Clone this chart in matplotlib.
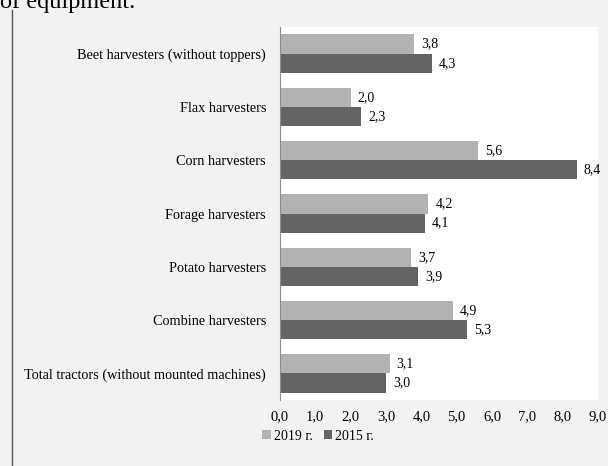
import numpy as np
import matplotlib.pyplot as plt

# Data
categories = [
    "Beet harvesters (without toppers)",
    "Flax harvesters",
    "Corn harvesters",
    "Forage harvesters",
    "Potato harvesters",
    "Combine harvesters",
    "Total tractors (without mounted machines)",
]
values_2019 = [3.8, 2.0, 5.6, 4.2, 3.7, 4.9, 3.1]
values_2015 = [4.3, 2.3, 8.4, 4.1, 3.9, 5.3, 3.0]
x_ticks = [0, 1, 2, 3, 4, 5, 6, 7, 8, 9]

plt.rcParams['font.family'] = ['Liberation Serif', 'DejaVu Serif']

fig = plt.figure(figsize=(6.08, 4.66), dpi=100)
fig.patch.set_facecolor("#f2f2f2")

ax = fig.add_axes([280 / 608, 1 - 400 / 466, 318 / 608, 373 / 466])
ax.set_facecolor("white")

y = np.arange(len(categories))
h = 0.36
light = "#b2b2b2"
dark = "#646464"
b1 = ax.barh(y - h / 2, values_2019, height=h, color=light, label="2019 г.")
b2 = ax.barh(y + h / 2, values_2015, height=h, color=dark, label="2015 г.")

def fmt(v):
    return f"{v:.1f}".replace(".", ",")

for bars, vals in ((b1, values_2019), (b2, values_2015)):
    for rect, v in zip(bars, vals):
        ax.text(v + 0.2, rect.get_y() + rect.get_height() / 2, fmt(v),
                va="center", ha="left", fontsize=10)

ax.set_xlim(0, 9)
ax.set_ylim(len(categories) - 0.5, -0.5)
ax.set_yticks(y)
ax.set_yticklabels(categories, fontsize=10.3)
ax.set_xticks(x_ticks)
ax.set_xticklabels([fmt(t) for t in x_ticks], fontsize=10.5)
ax.tick_params(axis="y", length=0, pad=10)
ax.tick_params(axis="x", length=0, pad=7)

for s in ("top", "right", "bottom"):
    ax.spines[s].set_visible(False)
ax.spines["left"].set_color("#8c8c8c")
ax.spines["left"].set_linewidth(0.8)

leg = fig.legend(handles=[b1, b2], loc="center left",
                 bbox_to_anchor=(250 / 608, 1 - 436 / 466), ncol=2,
                 frameon=False, fontsize=10, handlelength=0.6, handleheight=0.6,
                 handletextpad=0.2, columnspacing=0.8)

# cropped caption at the top and the page border on the left
fig.text(0.0, 1 + 8 / 466, "of equipment.", fontsize=17.5, va="top", ha="left")
fig.add_artist(plt.Line2D([12 / 608, 12 / 608], [0, 1 - 10 / 466],
                          transform=fig.transFigure, color="#555555", lw=1.0))

fig.savefig("out.png", dpi=100, facecolor=fig.get_facecolor())
